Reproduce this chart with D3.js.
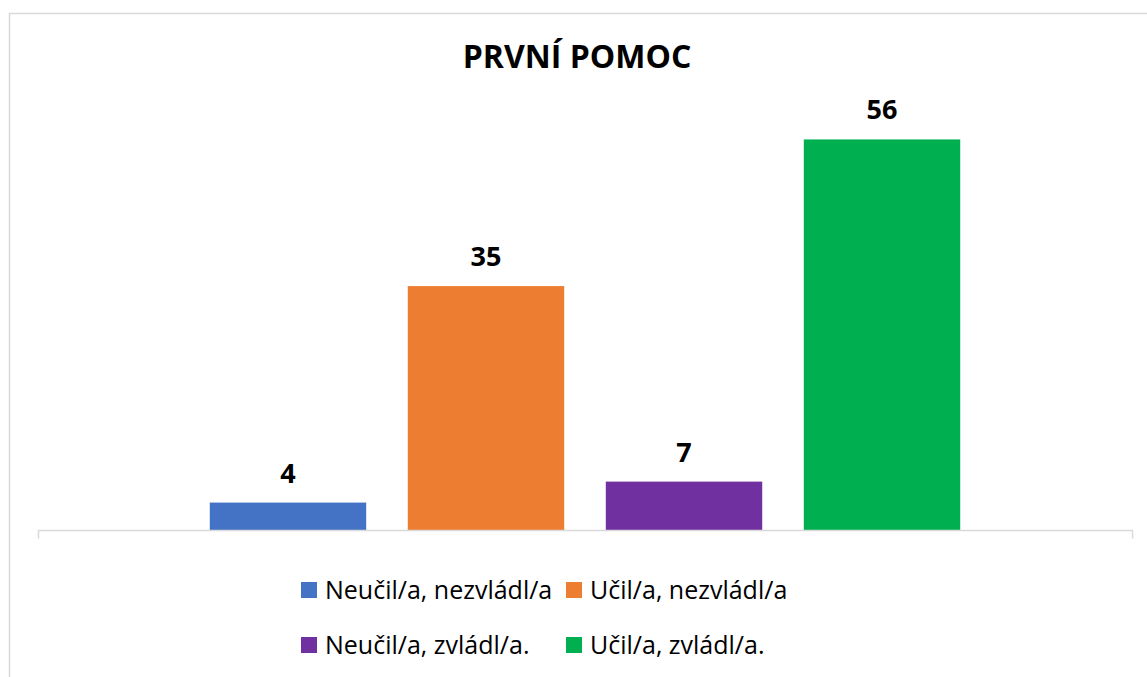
<!DOCTYPE html>
<html>
<head>
<meta charset="utf-8">
<script src="https://d3js.org/d3.v7.min.js"></script>
<style>
  body { margin: 0; background: #fff; }
  text { font-family: "Open Sans", sans-serif; }
</style>
</head>
<body>
<svg width="1147" height="677"></svg>
<script>
var title = "PRVNÍ POMOC";
var series = ["Neučil/a, nezvládl/a", "Učil/a, nezvládl/a", "Neučil/a, zvládl/a.", "Učil/a, zvládl/a."];
var values = [4, 35, 7, 56];
var colors = ["#4472c4", "#ed7d31", "#7030a0", "#00b050"];

var svg = d3.select("svg");

// outer chart border (cropped at right/bottom)
svg.append("rect")
    .attr("x", 9.5).attr("y", 13.5)
    .attr("width", 1200).attr("height", 700)
    .attr("fill", "none")
    .attr("stroke", "#d9d9d9")
    .attr("stroke-width", 1.5);

var x = d3.scaleBand()
    .domain(series)
    .range([38, 1132])
    .paddingInner(0.21)
    .paddingOuter(0.8675);

var y = d3.scaleLinear()
    .domain([0, 60])
    .range([530.5, 111.5]);

var color = d3.scaleOrdinal().domain(series).range(colors);

svg.append("text")
    .attr("x", 577).attr("y", 68)
    .attr("text-anchor", "middle")
    .style("font-size", "32px")
    .style("font-weight", "bold")
    .text(title);

svg.selectAll(".bar")
    .data(values)
    .enter().append("rect")
    .attr("class", "bar")
    .attr("x", function(d, i) { return x(series[i]); })
    .attr("y", function(d) { return y(d); })
    .attr("width", x.bandwidth())
    .attr("height", function(d) { return y(0) - y(d); })
    .attr("fill", function(d, i) { return color(series[i]); });

svg.selectAll(".lbl")
    .data(values)
    .enter().append("text")
    .attr("class", "lbl")
    .attr("x", function(d, i) { return x(series[i]) + x.bandwidth() / 2; })
    .attr("y", function(d) { return y(d) - 20; })
    .attr("text-anchor", "middle")
    .style("font-size", "27px")
    .style("font-weight", "bold")
    .text(function(d) { return d; });

// category axis (no labels)
var axis = svg.append("g").attr("transform", "translate(0,530.5)");
axis.append("path")
    .attr("d", "M38.5,8V0H1132.5V8")
    .attr("fill", "none")
    .attr("stroke", "#d9d9d9")
    .attr("stroke-width", 1.5);

// legend
var legPos = [[301, 582], [566, 582], [301, 637], [566, 637]];
var leg = svg.selectAll(".leg")
    .data(series)
    .enter().append("g")
    .attr("class", "leg")
    .attr("transform", function(d, i) { return "translate(" + legPos[i][0] + "," + legPos[i][1] + ")"; });
leg.append("rect")
    .attr("width", 16).attr("height", 16)
    .attr("fill", function(d) { return color(d); });
leg.append("text")
    .attr("x", 24).attr("y", 17)
    .style("font-size", "25px")
    .text(function(d) { return d; });
</script>
</body>
</html>
